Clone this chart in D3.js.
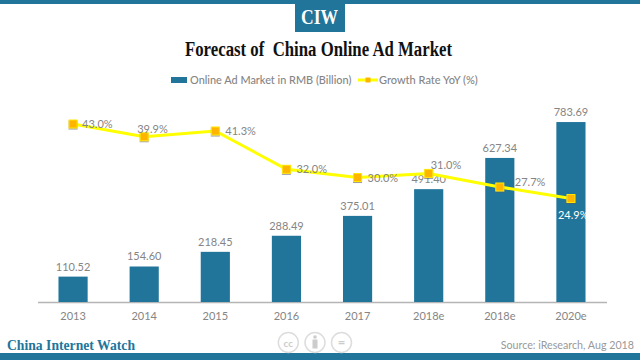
<!DOCTYPE html>
<html>
<head>
<meta charset="utf-8">
<script src="https://cdn.jsdelivr.net/npm/d3@7"></script>
<style>
html, body { margin: 0; padding: 0; background: #fff; }
svg { display: block; }
text { font-family: Lato, "Open Sans", sans-serif; }
.brand { font-family: "Liberation Serif", serif; font-weight: bold; white-space: pre; }
.domain { stroke: #b5b5b5; stroke-width: 1.5; }
</style>
</head>
<body>
<div id="chart"></div>
<script>
var years = ["2013", "2014", "2015", "2016", "2017", "2018e", "2018e", "2020e"];
var market = [110.52, 154.60, 218.45, 288.49, 375.01, 491.40, 627.34, 783.69];
var growth = [43.0, 39.9, 41.3, 32.0, 30.0, 31.0, 27.7, 24.9];
// where each growth label sits relative to its marker
var growth_dx = [9, -7, 10, 10, 10, 2, 15, -13];
var growth_dy = [4, -4, 4, 4, 4, -4, -1, 20];

var blue = "#21759b", grey = "#858585";

var svg = d3.select("#chart").append("svg")
    .attr("width", 640)
    .attr("height", 360);

var defs = svg.append("defs");
var shadow = defs.append("filter").attr("id", "shadow")
    .attr("x", "-50%").attr("y", "-50%").attr("width", "200%").attr("height", "200%");
shadow.append("feDropShadow")
    .attr("dx", 0).attr("dy", 1).attr("stdDeviation", 0.7)
    .attr("flood-color", "#555").attr("flood-opacity", 0.6);

// header and footer bands
svg.append("rect").attr("width", 640).attr("height", 4).attr("fill", blue);
svg.append("rect").attr("x", 295).attr("width", 50).attr("height", 32).attr("fill", blue);
svg.append("text").attr("class", "brand")
    .attr("x", 301).attr("y", 24)
    .attr("font-size", 20).attr("fill", "#fff")
    .attr("textLength", 37).attr("lengthAdjust", "spacingAndGlyphs")
    .text("CIW");
svg.append("text").attr("class", "brand")
    .attr("x", 185).attr("y", 56)
    .attr("font-size", 20.5).attr("fill", "#111")
    .attr("textLength", 267).attr("lengthAdjust", "spacingAndGlyphs")
    .text("Forecast of  China Online Ad Market");

svg.append("rect").attr("y", 353).attr("width", 640).attr("height", 7).attr("fill", blue);
svg.append("text").attr("class", "brand")
    .attr("x", 7).attr("y", 350)
    .attr("font-size", 15.5).attr("fill", blue)
    .attr("textLength", 128).attr("lengthAdjust", "spacingAndGlyphs")
    .text("China Internet Watch");
svg.append("text")
    .attr("x", 634).attr("y", 349).attr("text-anchor", "end")
    .attr("font-size", 10.7).attr("fill", "#999").text("Source: iResearch, Aug 2018");

// licence badges
var badges = svg.append("g").attr("fill", "none").attr("stroke", "#ddd").attr("stroke-width", 1.5);
[288.3, 315, 341.5].forEach(function(cx) {
    badges.append("circle").attr("cx", cx).attr("cy", 342.5).attr("r", 10);
});
svg.append("text").attr("x", 288.3).attr("y", 346.5).attr("text-anchor", "middle")
    .attr("font-size", 10).attr("font-weight", "bold").attr("fill", "#ccc").text("cc");
svg.append("circle").attr("cx", 315).attr("cy", 337).attr("r", 1.8).attr("fill", "#ccc");
svg.append("rect").attr("x", 312.5).attr("y", 339.5).attr("width", 5).attr("height", 9).attr("fill", "#ccc");
svg.append("text").attr("x", 341.5).attr("y", 347).attr("text-anchor", "middle")
    .attr("font-size", 13).attr("font-weight", "bold").attr("fill", "#ccc").text("=");

// legend
var legend = svg.append("g");
legend.append("rect").attr("x", 171).attr("y", 77).attr("width", 16).attr("height", 6).attr("fill", blue);
legend.append("text").attr("x", 190).attr("y", 84)
    .attr("font-size", 10.9).attr("font-weight", 500).attr("fill", grey).text("Online Ad Market in RMB (Billion)");
legend.append("line").attr("x1", 358).attr("x2", 378).attr("y1", 80).attr("y2", 80)
    .attr("stroke", "#ffff00").attr("stroke-width", 3);
legend.append("rect").attr("x", 365.5).attr("y", 77.5).attr("width", 5).attr("height", 5).attr("fill", "#ffb400");
legend.append("text").attr("x", 379).attr("y", 84)
    .attr("font-size", 11).attr("font-weight", 500).attr("fill", grey).text("Growth Rate YoY (%)");

// scales, the band is keyed by index because 2018e appears twice
var x = d3.scaleBand()
    .domain(d3.range(years.length))
    .range([37.5, 606.5])
    .paddingInner(0.59)
    .paddingOuter(0.295);

var y = d3.scaleLinear()
    .domain([0, 800])
    .range([302, 118.3]);

var y_rate = d3.scaleLinear()
    .domain([0, 50])
    .range([301, 95.2]);

function center(i) { return x(i) + x.bandwidth() / 2; }

var axis = svg.append("g")
    .attr("transform", "translate(0,302)")
    .call(d3.axisBottom(x).tickSize(0).tickPadding(10).tickFormat(function(i) { return years[i]; }));
axis.selectAll("text")
    .attr("font-size", 11)
    .attr("font-family", "Lato, sans-serif")
    .attr("fill", grey);

// bars
svg.selectAll(".bar")
    .data(market)
    .enter().append("rect")
    .attr("class", "bar")
    .attr("x", function(d, i) { return x(i); })
    .attr("y", function(d) { return y(d); })
    .attr("width", x.bandwidth())
    .attr("height", function(d) { return y(0) - y(d); })
    .attr("fill", blue);

svg.selectAll(".bar-label")
    .data(market)
    .enter().append("text")
    .attr("class", "bar-label")
    .attr("x", function(d, i) { return center(i); })
    .attr("y", function(d) { return y(d) - 6; })
    .attr("text-anchor", "middle")
    .attr("font-size", 11)
    .attr("fill", grey)
    .text(function(d) { return d.toFixed(2); });

// growth line
var line = d3.line()
    .x(function(d, i) { return center(i); })
    .y(function(d) { return y_rate(d); });

svg.append("path")
    .datum(growth)
    .attr("fill", "none")
    .attr("stroke", "#ffff00")
    .attr("stroke-width", 3)
    .attr("d", line);

svg.selectAll(".marker")
    .data(growth)
    .enter().append("rect")
    .attr("class", "marker")
    .attr("x", function(d, i) { return center(i) - 4; })
    .attr("y", function(d) { return y_rate(d) - 4; })
    .attr("width", 8)
    .attr("height", 8)
    .attr("fill", "#ffb400")
    .attr("stroke", "#ffe600")
    .attr("filter", "url(#shadow)");

svg.selectAll(".rate-label")
    .data(growth)
    .enter().append("text")
    .attr("class", "rate-label")
    .attr("x", function(d, i) { return center(i) + growth_dx[i]; })
    .attr("y", function(d, i) { return y_rate(d) + growth_dy[i]; })
    .attr("font-size", 11)
    .attr("fill", function(d, i) { return i === 7 ? "#fff" : grey; })
    .text(function(d) { return d.toFixed(1) + "%"; });
</script>
</body>
</html>
